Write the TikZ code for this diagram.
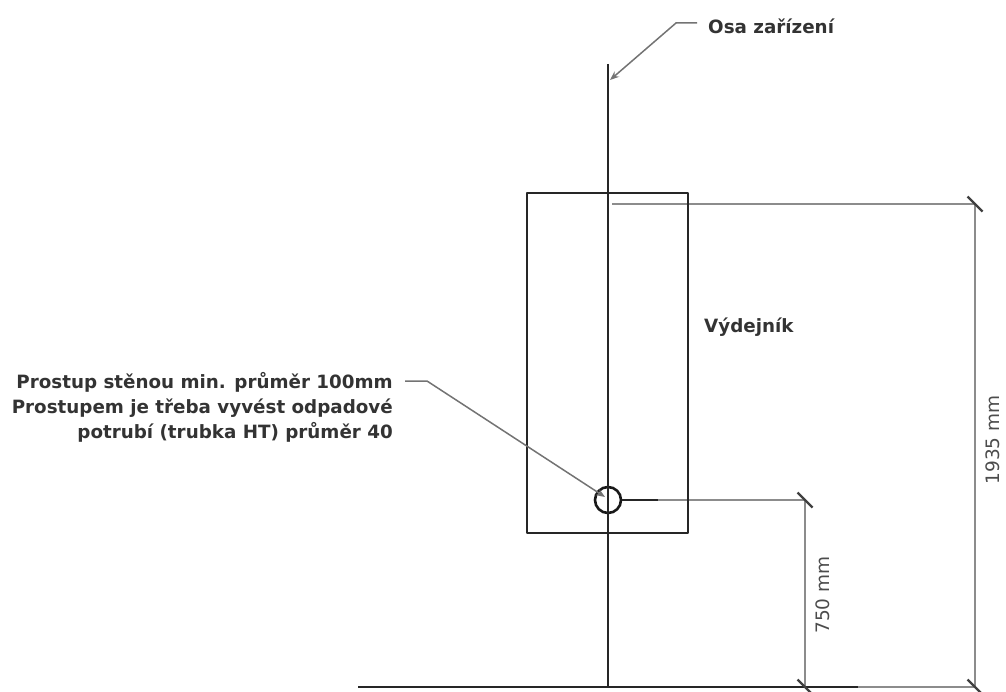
\documentclass[tikz,border=0pt]{standalone}
\usepackage{fontspec}
\setmainfont{DejaVu Sans}
\usetikzlibrary{arrows.meta}

\begin{document}
\begin{tikzpicture}[x=1pt,y=-1pt,>={Stealth[length=9pt,width=7pt]},
  main line/.style={draw=black!85,line width=2.8pt},
  thin line/.style={draw=black!45,line width=2pt},
  tick line/.style={draw=black!75,line width=2.2pt},
  lead line/.style={draw=black!55,line width=1.5pt},
  bold label/.style={font=\bfseries\fontsize{18.3}{25}\selectfont,text=black!80,inner sep=0pt},
  dim label/.style={font=\fontsize{18.5}{20}\selectfont,text=black!70,inner sep=0pt,rotate=90}]

  \useasboundingbox (0,0) rectangle (1006,692);

  \node[bold label,anchor=west] (osa) at (708,26) {Osa zařízení};
  \node[bold label,anchor=west] (vydejnik) at (704,327) {Výdejník};
  \node[bold label,anchor=east,align=right] (prostup) at (393,407) {Prostup stěnou min. průměr 100mm\\
    Prostupem je třeba vyvést odpadové\\potrubí (trubka HT) průměr 40};
  \node[dim label] (dim1) at (993,440) {1935 mm};
  \node[dim label] (dim2) at (823,595) {750 mm};

  \node[circle,draw=black!90,line width=2.6pt,minimum size=26pt,inner sep=0pt] (otvor) at (608,500) {};

  \coordinate (axistop) at (608,64);
  \coordinate (axisbot) at (608,688);
  \coordinate (groundl) at (358,687);
  \coordinate (groundm) at (858,687);
  \coordinate (groundr) at (975,687);
  \coordinate (stubend) at (658,500);
  \coordinate (dimtop) at (612,204);
  \coordinate (mark1) at (975,204);
  \coordinate (mark2) at (805,500);
  \coordinate (mark3) at (805,687);
  \coordinate (osakink) at (676,23);
  \coordinate (osastart) at (697,23);
  \coordinate (osatip) at (610,80);
  \coordinate (prokink) at (427,381);
  \coordinate (prostart) at (405,381);
  \coordinate (protip) at (605,497);

  % dimensions
  \path[thin line]
    (dimtop) edge (mark1)
    (mark1) edge (groundr)
    (stubend) edge (mark2)
    (mark2) edge (mark3)
    (groundm) edge (groundr);

  % device and axis
  \draw[main line,line join=round] (527,193) rectangle (688,533);
  \path[main line]
    (axistop) edge (axisbot)
    (groundl) edge (groundm)
    (otvor.east) edge (stubend);

  % ticks
  \foreach \m in {mark1,mark2,mark3,groundr}
    \draw[tick line] ([xshift=-7.5pt,yshift=7.5pt]\m) -- ([xshift=7.5pt,yshift=-7.5pt]\m);

  % leaders
  \draw[lead line,->] (osastart) -- (osakink) -- (osatip);
  \draw[lead line,->] (prostart) -- (prokink) -- (protip);
\end{tikzpicture}
\end{document}
